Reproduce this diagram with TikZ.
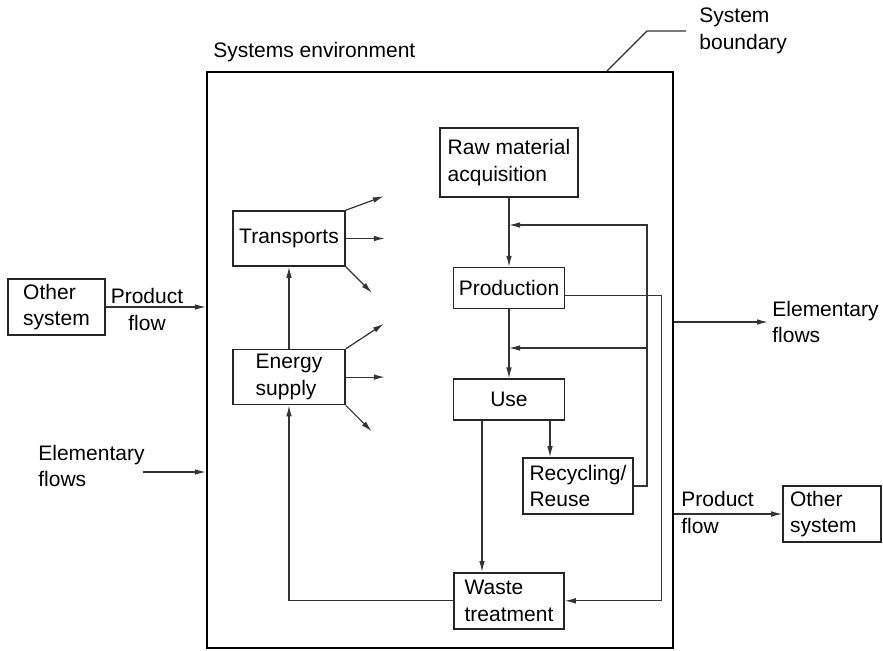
\documentclass[tikz,border=0pt]{standalone}
\usepackage{fontspec}
\setmainfont{Liberation Sans}
\usetikzlibrary{positioning,arrows.meta}

\begin{document}
\begin{tikzpicture}[
        x=0.5pt, y=-0.5pt,
        font=\fontsize{10.5}{13.3}\selectfont,
        stagenode/.style={rectangle, draw=black!85, line width=0.8pt, inner sep=0pt, align=left, minimum width=55.5pt, minimum height=20.5pt},
        systemnode/.style={stagenode, minimum width=48.5pt, minimum height=28pt},
        labelnode/.style={inner sep=0pt, align=left},
        flow/.style={draw=black!80, line width=0.6pt, -{Latex[length=5.5pt,width=2.8pt]}},
        line/.style={draw=black!80, line width=0.6pt},
    ]
    \useasboundingbox (0,0) rectangle (883,650);
    \node[draw, line width=1.1pt, minimum width=233pt, minimum height=288pt] (boundary) at (440,360) {};

    \node[stagenode, minimum width=69pt, minimum height=34.5pt] (raw) at (509,162.5) {Raw material\\acquisition};
    \node[stagenode]  (production) [below = 34.5pt of raw]                {Production};
    \node[stagenode]  (use)        [below = 34.5pt of production]         {Use};
    \node[stagenode, minimum width=55pt, minimum height=28pt] (waste)     [below = 75.5pt of use] {Waste\\treatment};
    \node[stagenode, minimum width=55pt, minimum height=28pt] (recycling) at (578,486) {Recycling/\\Reuse};
    \node[stagenode, minimum width=56pt, minimum height=27.5pt] (transports) at (289,238.5) {Transports};
    \node[stagenode, minimum width=56pt, minimum height=27.5pt] (energy)  [below = 41pt of transports] {Energy\\supply};
    \node[systemnode] (other1) at (56.5,307) {Other\\system};
    \node[systemnode, minimum width=49pt, text width=42pt, inner xsep=3.5pt] (other2) at (832,514) {Other\\system};

    \node[labelnode, anchor=base west] (envlabel) at (213,57)     {Systems environment};
    \node[labelnode, anchor=west]      (bndlabel) at (699,31)     {System\\boundary};
    \node[labelnode, align=center]     (prodin)   at (147,309.5)  {Product\\flow};
    \node[labelnode, anchor=west]      (elemin)   at (38,466)     {Elementary\\flows};
    \node[labelnode, anchor=west]      (elemout)  at (772,322)    {Elementary\\flows};
    \node[labelnode, anchor=west]      (prodout)  at (681,512.5)  {Product\\flow};

    \coordinate (fbtop)     at (647,225);
    \coordinate (fbmid)     at (647,348);
    \coordinate (elemstart) at (143,472);

    \draw[flow] (raw.south) -- (production.north);
    \draw[flow] (production.south) -- (use.north);
    \draw[flow] ([xshift=-13.5pt]use.south) -- ([xshift=-13.5pt]use.south |- waste.north);
    \draw[flow] ([xshift=20.5pt]use.south) -- ([xshift=20.5pt]use.south |- recycling.north);
    \draw[flow] (recycling.east) -| (fbtop) -- (fbtop -| raw.south);
    \draw[flow] (fbmid) -- (fbmid -| production.south);
    \draw[flow] ([yshift=-3.75pt]production.east) -- ++(96,0) |- (waste.east);
    \draw[flow] (waste.west) -| (energy.south);
    \draw[flow] (energy.north) -- (transports.south);
    \foreach \src/\rise in {transports/-14, energy/-25} {
        \draw[flow] (\src.north east) -- ++(38,\rise);
        \draw[flow] (\src.east) -- ++(39,0);
        \draw[flow] (\src.south east) -- ++(26,26);
    }
    \draw[flow] (other1.east) -- (other1.east -| boundary.west);
    \draw[flow] (elemstart) -- (elemstart -| boundary.west);
    \draw[flow] (boundary.east |- elemout.west) -- ([xshift=-2pt]elemout.west);
    \draw[flow] (boundary.east |- other2.west) -- (other2.west);
    \draw[line] ([xshift=83.5pt]boundary.north) -- ++(40,-40) -- ++(39,0);
\end{tikzpicture}
\end{document}
